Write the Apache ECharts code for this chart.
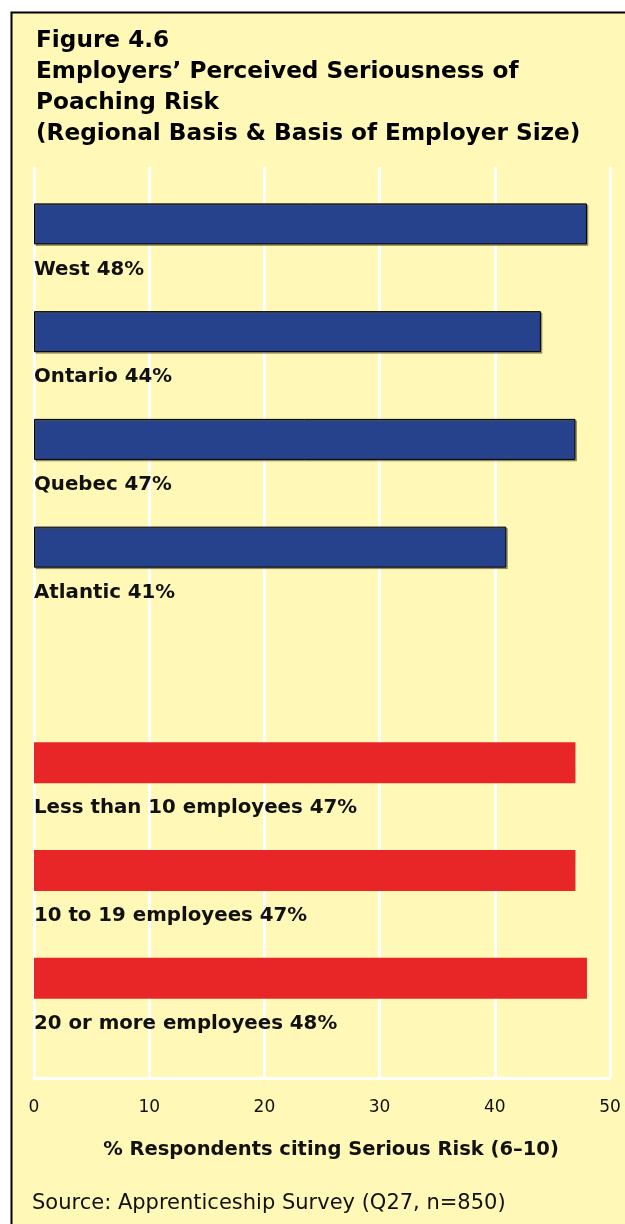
<!DOCTYPE html>
<html><head><meta charset="utf-8">
<script src="https://cdn.jsdelivr.net/npm/echarts@6/dist/echarts.min.js"></script>
<style>html,body{margin:0;padding:0;background:#fff}#c{width:625px;height:1224px}</style>
</head><body><div id="c"></div>
<script>
var categories = ['West','Ontario','Quebec','Atlantic','','Less than 10 employees','10 to 19 employees','20 or more employees'];
var regionValues = [48,44,47,41,null,null,null,null];
var sizeValues = [null,null,null,null,null,47,47,48];
var tickValues = [0,10,20,30,40,50];
var titleLines = ['Figure 4.6','Employers\u2019 Perceived Seriousness of','Poaching Risk','(Regional Basis & Basis of Employer Size)'];
var axisName = '% Respondents citing Serious Risk (6\u201310)';
var sourceText = 'Source: Apprenticeship Survey (Q27, n=850)';

var FONT = '"DejaVu Sans", sans-serif';
var chart = echarts.init(document.getElementById('c'), null, {renderer:'canvas'});
var labelCfg = {
  show: true,
  position: [0, '100%'],
  offset: [0, 25],
  align: 'left',
  verticalAlign: 'middle',
  color: '#111',
  fontFamily: FONT,
  fontWeight: 'bold',
  fontSize: 19.8,
  formatter: function(p){ return p.name + ' ' + p.value + '%'; }
};
chart.setOption({
  backgroundColor: '#ffffff',
  animation: false,
  graphic: [
    {type:'rect', z:-10, shape:{x:11, y:12, width:614, height:1212}, style:{fill:'#FFF8B6'}},
    {type:'polyline', z:10, shape:{points:[[11.5,1224],[11.5,12.5],[625,12.5]]}, style:{stroke:'#000', lineWidth:2, fill:null}},
    {type:'text', left:32, top:1193, style:{text:sourceText, font:'21px ' + FONT, fill:'#111'}}
  ],
  title: {
    text: titleLines.join('\n'),
    left: 31, top: 20,
    textStyle: {fontFamily: FONT, fontWeight:'bold', fontSize:23.2, lineHeight:31, color:'#000'}
  },
  grid: [
    {left:34, right:15, top:170, height:862},
    {left:34, right:15, top:167, bottom:146}
  ],
  xAxis: [
    {gridIndex:0, type:'value', min:0, max:50, interval:10, show:false, splitLine:{show:false}},
    {gridIndex:1, type:'value', min:0, max:50, interval:10,
     axisLine:{show:true, lineStyle:{color:'#fff', width:3}},
     axisTick:{show:false},
     splitLine:{show:true, lineStyle:{color:'#fff', width:3}},
     axisLabel:{margin:21, color:'#111', fontFamily:FONT, fontSize:17, formatter:function(v){return tickValues.indexOf(v)>=0?String(v):'';}},
     name: axisName, nameLocation:'middle', nameGap:62,
     nameTextStyle:{color:'#111', fontFamily:FONT, fontWeight:'bold', fontSize:19.5, padding:[0,0,0,18]}
    }
  ],
  yAxis: [
    {gridIndex:0, type:'category', data:categories, inverse:true, show:false},
    {gridIndex:1, type:'category', data:[''], show:false}
  ],
  series: [
    {type:'bar', xAxisIndex:0, yAxisIndex:0, data:regionValues, barWidth:41, barGap:'-100%',
     itemStyle:{color:'#26428C', borderColor:'#000', borderWidth:1, shadowColor:'rgba(90,80,40,0.5)', shadowOffsetX:1.5, shadowOffsetY:1.5, shadowBlur:0},
     label: labelCfg, z:3},
    {type:'bar', xAxisIndex:0, yAxisIndex:0, data:sizeValues, barWidth:41, barGap:'-100%',
     itemStyle:{color:'#E82628'},
     label: labelCfg, z:3}
  ]
});
</script></body></html>
